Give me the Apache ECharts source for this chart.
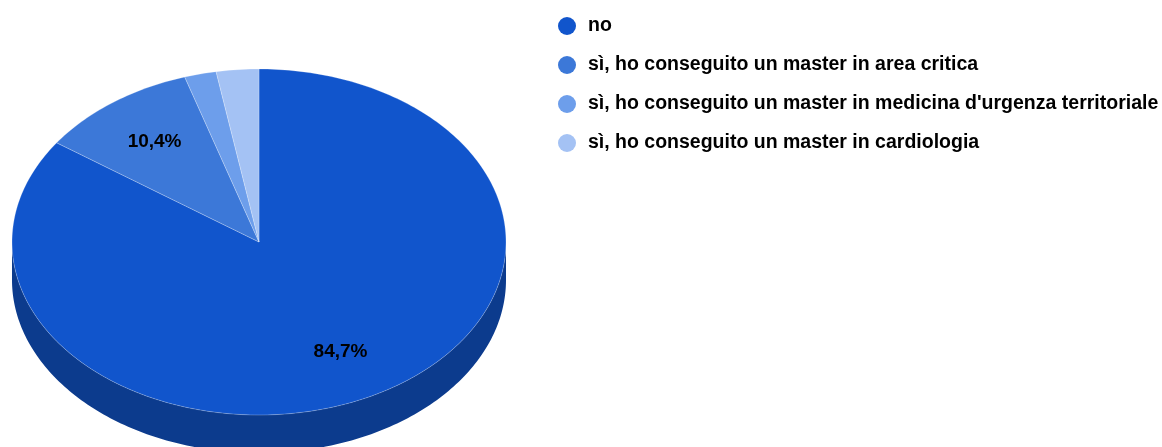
<!DOCTYPE html>
<html>
<head>
<meta charset="utf-8">
<script src="https://cdn.jsdelivr.net/npm/echarts@6/dist/echarts.min.js"></script>
<style>
  html, body { margin: 0; padding: 0; background: #fff; }
  #chart { width: 1162px; height: 447px; }
</style>
</head>
<body>
<div id="chart"></div>
<script>
// Answers to "have you obtained a master's degree?"
const categories = [
  'no',
  'sì, ho conseguito un master in area critica',
  "sì, ho conseguito un master in medicina d'urgenza territoriale",
  'sì, ho conseguito un master in cardiologia'
];
const counts = [122, 15, 3, 4];
const colors = ['#1155cc', '#3c78d8', '#6d9eeb', '#a4c2f4'];

// 3D pie geometry (pixels)
const CX = 259, CY = 242, RX = 247, RY = 173, DEPTH = 38;
const LABEL_R = 0.715;
const MIN_LABEL_SHARE = 0.05;
const SIDE_SHADE = 0.69;
const FONT = 'Liberation Sans, Arial, sans-serif';

const total = counts.reduce((a, b) => a + b, 0);
const startAngles = [];
counts.reduce((acc, v, i) => { startAngles[i] = acc; return acc + v / total * 360; }, 0);

function shade(hex, f) {
  const c = echarts.color.parse(hex);
  return 'rgb(' + [0, 1, 2].map(k => Math.round(c[k] * f)).join(',') + ')';
}

// angle in degrees, clockwise from 12 o'clock
function pt(deg, dy) {
  const r = deg * Math.PI / 180;
  return [CX + RX * Math.sin(r), CY - RY * Math.cos(r) + (dy || 0)];
}
function arc(a0, a1, dy) {
  const pts = [];
  const n = Math.max(2, Math.ceil(Math.abs(a1 - a0)));
  for (let k = 0; k <= n; k++) pts.push(pt(a0 + (a1 - a0) * k / n, dy));
  return pts;
}

function makeRender(i) {
  return function () {
    const a0 = startAngles[i];
    const a1 = a0 + counts[i] / total * 360;
    const children = [];
    // visible side wall: front half of the rim (90°..270°)
    const lo = Math.max(a0, 90), hi = Math.min(a1, 270);
    if (hi > lo) {
      const top = arc(lo, hi, 0);
      const bottom = arc(hi, lo, DEPTH);
      children.push({
        type: 'polygon', z2: 0,
        shape: { points: top.concat(bottom) },
        style: { fill: shade(colors[i], SIDE_SHADE) }
      });
    }
    // top face
    children.push({
      type: 'polygon', z2: 1,
      shape: { points: [[CX, CY]].concat(arc(a0, a1, 0)) },
      style: { fill: colors[i], stroke: 'rgba(255,255,255,0.3)', lineWidth: 0.8 }
    });
    const share = counts[i] / total;
    if (share >= MIN_LABEL_SHARE) {
      const mid = (a0 + a1) / 2 * Math.PI / 180;
      children.push({
        type: 'text', z2: 2,
        x: CX + LABEL_R * RX * Math.sin(mid),
        y: CY - LABEL_R * RY * Math.cos(mid),
        style: {
          text: (share * 100).toFixed(1).replace('.', ',') + '%',
          font: 'bold 19px ' + FONT,
          fill: '#000',
          align: 'center',
          verticalAlign: 'middle'
        }
      });
    }
    return { type: 'group', children };
  };
}

const chart = echarts.init(document.getElementById('chart'), null, { renderer: 'canvas' });
chart.setOption({
  animation: false,
  color: colors,
  legend: {
    orient: 'vertical',
    left: 553,
    top: 11,
    itemWidth: 18,
    itemHeight: 18,
    itemGap: 19,
    icon: 'circle',
    selectedMode: false,
    data: categories,
    textStyle: {
      fontFamily: FONT,
      fontWeight: 'bold',
      fontSize: 19.5,
      lineHeight: 20,
      color: '#000',
      padding: [0, 0, 0, 7]
    }
  },
  series: categories.map((name, i) => ({
    type: 'custom',
    name,
    coordinateSystem: 'none',
    itemStyle: { color: colors[i] },
    data: [[counts[i]]],
    renderItem: makeRender(i)
  }))
});
</script>
</body>
</html>
